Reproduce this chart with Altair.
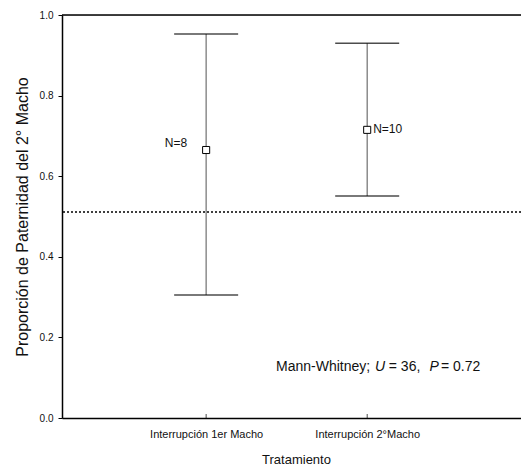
import altair as alt
import pandas as pd

# ---- data ----
categories = ["Interrupción 1er Macho", "Interrupción 2°Macho"]
positions = [1, 2]
means = [0.665, 0.715]
upper = [0.953, 0.930]
lower = [0.305, 0.551]
n_labels = ["N=8", "N=10"]
reference_line = [0.511]
y_ticks = [0.0, 0.2, 0.4, 0.6, 0.8, 1.0]

# annotation "Mann-Whitney; U = 36, P = 0.72" split into normal / italic pieces
ann_text = ["Mann-Whitney;", "U", "= 36,", "P", "= 0.72"]
ann_italic = [False, True, False, True, False]
ann_x = [1.434, 2.049, 2.134, 2.387, 2.458]
ann_y = [0.127, 0.127, 0.127, 0.127, 0.127]

FONT = "Liberation Sans"

df = pd.DataFrame({
    "cat": categories, "pos": positions, "mean": means,
    "upper": upper, "lower": lower, "n": n_labels,
})
ann = pd.DataFrame({"t": ann_text, "it": ann_italic, "x": ann_x, "y": ann_y})
ref = pd.DataFrame({"y": reference_line})
top = pd.DataFrame({"y": [y_ticks[-1]]})

label_expr = " : ".join(
    f"datum.value == {p} ? '{c}'" for p, c in zip(positions, categories)
) + " : ''"

x_scale = alt.Scale(domain=[0.105, 2.955], nice=False, zero=False)
y_scale = alt.Scale(domain=[0, 1], nice=False)

x_enc = alt.X(
    "pos:Q", scale=x_scale,
    axis=alt.Axis(
        values=positions, labelExpr=label_expr, ticks=False, grid=False,
        domainColor="black", domainWidth=1.5,
        labelFont=FONT, labelFontSize=11, labelColor="#111", labelPadding=10,
        title="Tratamiento", titleFont=FONT, titleFontSize=13,
        titleFontWeight="normal", titleColor="#111", titlePadding=14,
        titleX=234,
    ),
)
y_axis = alt.Axis(
    values=y_ticks, format=".1f", grid=False,
    domainColor="black", domainWidth=1.5, tickColor="black", tickSize=4,
    labelFont=FONT, labelFontSize=10, labelColor="#111", labelPadding=5,
    title="Proporción de Paternidad del 2° Macho", titleFont=FONT,
    titleFontSize=16, titleFontWeight="normal", titleColor="#111",
    titlePadding=9,
)

base = alt.Chart(df)

whisker = base.mark_rule(color="#7a7a7a", strokeWidth=1.3).encode(
    x=x_enc,
    y=alt.Y("lower:Q", scale=y_scale, axis=y_axis),
    y2="upper:Q",
)
cap_hi = base.mark_tick(orient="horizontal", size=64, thickness=1.5, color="black").encode(
    x="pos:Q", y="upper:Q"
)
cap_lo = base.mark_tick(orient="horizontal", size=64, thickness=1.5, color="black").encode(
    x="pos:Q", y="lower:Q"
)
axis_ticks = base.mark_tick(orient="vertical", size=4, thickness=1, color="black", yOffset=-2).encode(
    x="pos:Q", y=alt.datum(0)
)
points = base.mark_point(
    shape="square", filled=True, fill="white", stroke="black",
    strokeWidth=1, size=50, opacity=1,
).encode(x="pos:Q", y="mean:Q")

n_left = base.transform_filter(alt.datum.pos == positions[0]).mark_text(
    align="right", baseline="middle", dx=-19, dy=-7, font=FONT, fontSize=12, color="#111"
).encode(x="pos:Q", y="mean:Q", text="n:N")
n_right = base.transform_filter(alt.datum.pos == positions[1]).mark_text(
    align="left", baseline="middle", dx=6, dy=-1, font=FONT, fontSize=12, color="#111"
).encode(x="pos:Q", y="mean:Q", text="n:N")

ref_rule = alt.Chart(ref).mark_rule(color="black", strokeWidth=1.5, strokeDash=[2, 2]).encode(
    y="y:Q"
)
top_rule = alt.Chart(top).mark_rule(color="black", strokeWidth=1.5).encode(y="y:Q")

ann_normal = alt.Chart(ann).transform_filter("!datum.it").mark_text(
    align="left", baseline="middle", font=FONT, fontSize=14, color="#111"
).encode(x="x:Q", y="y:Q", text="t:N")
ann_ital = alt.Chart(ann).transform_filter("datum.it").mark_text(
    align="left", baseline="middle", font=FONT, fontSize=14, fontStyle="italic", color="#111"
).encode(x="x:Q", y="y:Q", text="t:N")

chart = alt.layer(
    whisker, cap_hi, cap_lo, axis_ticks, ref_rule, top_rule, points,
    n_left, n_right, ann_normal, ann_ital,
).properties(
    width=459, height=403,
    autosize=alt.AutoSizeParams(type="none"),
    padding={"left": 62, "top": 15, "right": 0, "bottom": 49},
).configure_view(stroke=None).configure(background="white")

chart.save("out.html", embed_options={"renderer": "svg", "actions": False})
